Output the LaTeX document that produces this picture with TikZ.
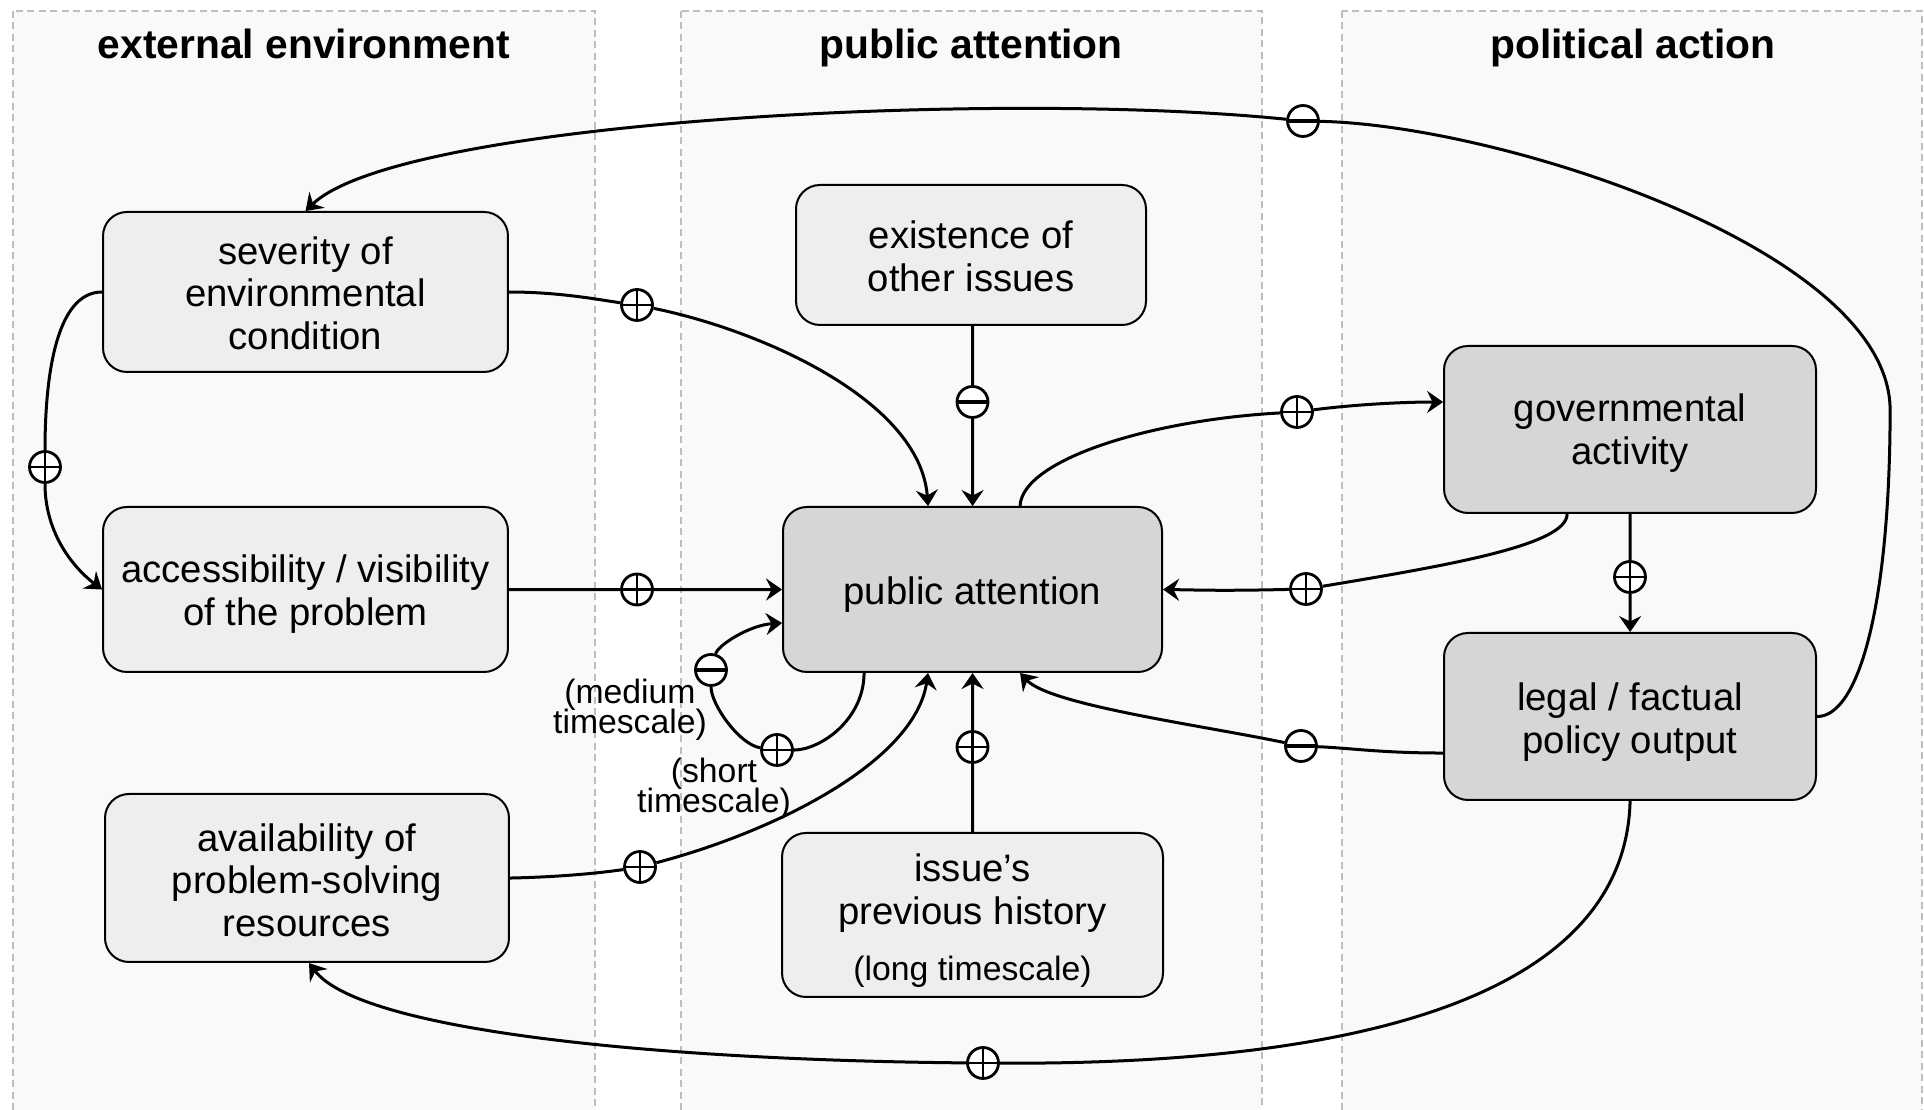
\documentclass[tikz,border=0pt]{standalone}
\usepackage{fontspec}
\setmainfont{Liberation Sans}
\usetikzlibrary{arrows.meta,calc}
\definecolor{panelgray}{HTML}{F9F9F9}
\definecolor{framegray}{HTML}{BEBEBE}
\definecolor{boxlight}{HTML}{EEEEEE}
\definecolor{boxdark}{HTML}{D6D6D6}
\newcommand{\lift}[1]{\rule{0pt}{#1pt}}
\newcommand{\notefont}{\fontsize{9.6}{8.4}\selectfont\lineskiplimit=-5pt\relax}

\begin{document}
\begin{tikzpicture}[scale=0.1]
\tikzstyle{every node}+=[inner sep=0pt]
\tikzstyle{panel}=[draw=framegray, fill=panelgray, line width=0.28mm, dash pattern=on 0.7mm off 0.45mm]
\tikzstyle{heading}=[anchor=base, font=\fontsize{11.6}{14}\selectfont\bfseries]
\tikzstyle{factor}=[draw, line width=0.2mm, rounded corners=2.4mm, fill=boxlight, align=center, font=\fontsize{10.9}{12.2}\selectfont]
\tikzstyle{keyfactor}=[factor, fill=boxdark]
\tikzstyle{flow}=[line width=0.3mm, -{Stealth[length=1.6mm, width=2.2mm, inset=0.55mm]}]
\tikzstyle{sign}=[circle, draw, fill=white, line width=0.28mm, minimum size=3.1mm]
\tikzstyle{plusmark}=[sign, path picture={\draw[line width=0.22mm] (path picture bounding box.north) -- (path picture bounding box.south) (path picture bounding box.west) -- (path picture bounding box.east);}]
\tikzstyle{minusmark}=[sign, path picture={\draw[line width=0.32mm] (path picture bounding box.west) -- (path picture bounding box.east);}]
\tikzstyle{note}=[align=center, font=\notefont]

\useasboundingbox (0,0) rectangle (192.4,-111);
\fill [white] (0,0) rectangle (192.4,-111);
\draw [panel] (1.3,-1.1) rectangle (59.5,-113);
\draw [panel] (68.1,-1.1) rectangle (126.2,-113);
\draw [panel] (134.2,-1.1) rectangle (192.2,-113);
\node [heading] (headenv) at (30.4,-5.85) {external environment};
\node [heading] (headpub) at (97.1,-5.85) {public attention};
\node [heading] (headpol) at (163.3,-5.85) {political action};

\node [factor, minimum width=40.5mm, minimum height=16mm] (sev) at (30.55,-29.2) {\lift{8.6}severity of\\environmental\\condition};
\node [factor, minimum width=40.5mm, minimum height=16.5mm] (acc) at (30.55,-58.95) {\lift{10.4}accessibility / visibility\\of the problem};
\node [factor, minimum width=40.4mm, minimum height=16.8mm] (avail) at (30.7,-87.8) {\lift{9.2}availability of\\problem-solving\\resources};
\node [factor, minimum width=35mm, minimum height=14mm] (other) at (97.1,-25.5) {\lift{8.8}existence of\\other issues};
\node [keyfactor, minimum width=37.9mm, minimum height=16.5mm] (pa) at (97.25,-58.95) {\lift{10.6}public attention};
\node [factor, minimum width=38.1mm, minimum height=16.4mm] (hist) at (97.25,-91.5) {\lift{11.2}issue’s\\previous history\\[3.6pt]{\fontsize{9.6}{11}\selectfont (long timescale)}};
\node [keyfactor, minimum width=37.2mm, minimum height=16.7mm] (gov) at (163,-42.95) {\lift{10}governmental\\activity};
\node [keyfactor, minimum width=37.2mm, minimum height=16.7mm] (out) at (163,-71.65) {\lift{11.2}legal / factual\\policy output};

\node [plusmark] (sevpa) at (63.7,-30.5) {};
\node [minusmark] (othpa) at (97.25,-40.2) {};
\node [plusmark] (accpa) at (63.7,-58.95) {};
\node [plusmark] (sevacc) at (4.5,-46.7) {};
\node [minusmark] (outsev) at (130.3,-12.1) {};
\node [plusmark] (pagov) at (129.7,-41.2) {};
\node [plusmark] (govpa) at (130.6,-58.9) {};
\node [plusmark] (govout) at (163,-57.7) {};
\node [minusmark] (outpa) at (130.1,-74.6) {};
\node [plusmark] (outav) at (98.3,-106.3) {};
\node [plusmark] (avpa) at (64,-86.7) {};
\node [plusmark] (histpa) at (97.25,-74.7) {};
\node [plusmark] (shortloop) at (77.7,-75) {};
\node [minusmark] (medloop) at (71.1,-67) {};
\coordinate (rightbend) at (189,-41);

\node [note] (medlabel) at (63,-71.0) {(medium\\timescale)};
\node [note] (shortlabel) at (71.4,-78.9) {(short\\timescale)};

\draw [flow] (sev.east) .. controls (56,-29.2) and (60,-30) .. (sevpa) .. controls (76,-33) and (92,-40) .. ($(pa.north)+(-4.45,0)$);
\draw [flow] (othpa |- other.south) -- (othpa) -- (othpa |- pa.north);
\draw [flow] (acc.east) -- (accpa) -- (pa.west);
\draw [flow] (sev.west) .. controls (5.5,-29.2) and (4.5,-38) .. (sevacc) .. controls (4.5,-53) and (7,-56.5) .. (acc.west);
\draw [flow] (out.east) .. controls (186,-71.65) and (189,-60) .. (rightbend) .. controls (189,-25) and (150,-12.5) .. (outsev) .. controls (100,-9) and (40,-12) .. (sev.north);
\draw [flow] ($(pa.north)+(4.75,0)$) .. controls (102.2,-46) and (115,-42) .. (pagov) .. controls (135,-40.5) and (140,-40.2) .. ($(gov.west)+(0,2.75)$);
\draw [flow] ($(gov.south)+(-6.3,0)$) .. controls (156.7,-54.5) and (145,-56.5) .. (govpa) .. controls (122,-59.1) and (120,-59) .. (pa.east);
\draw [flow] (gov.south) -- (govout) -- (out.north);
\draw [flow] ($(out.west)+(0,-3.65)$) .. controls (138,-75.3) and (135,-74.8) .. (outpa) .. controls (120,-72.5) and (105,-70.5) .. ($(pa.south)+(4.75,0)$);
\draw [flow] (out.south) .. controls (162.5,-100) and (135,-106.5) .. (outav) .. controls (65,-106) and (36,-103) .. ($(avail.south)+(0.2,0)$);
\draw [flow] (avail.east) .. controls (56,-87.7) and (60,-87.3) .. (avpa) .. controls (78,-83) and (91.5,-76) .. ($(pa.south)+(-4.45,0)$);
\draw [flow] (hist.north) -- (histpa) -- (histpa |- pa.south);
\draw [flow] ($(pa.south)+(-10.85,0)$) .. controls (86.4,-72) and (82,-75) .. (shortloop) .. controls (74,-74.5) and (71.1,-70.5) .. (medloop) .. controls (71.8,-64.5) and (75,-62.5) .. ($(pa.west)+(0,-3.35)$);
\end{tikzpicture}
\end{document}
